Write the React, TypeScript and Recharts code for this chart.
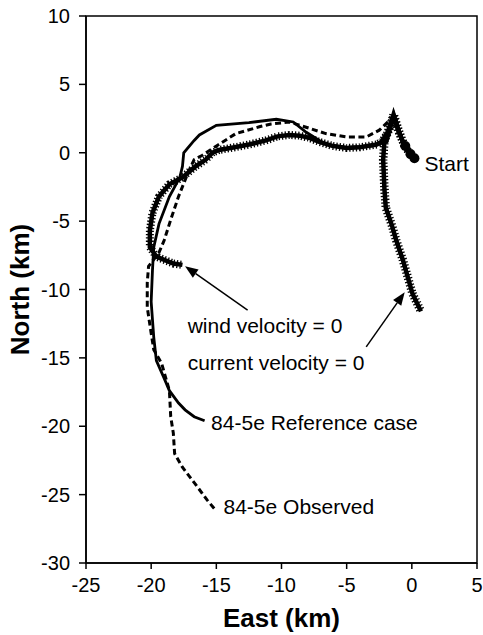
import React from "react";
import { ScatterChart, Scatter, XAxis, YAxis, ReferenceArea, ReferenceLine, ReferenceDot } from "recharts";

const eastTicks = [-25, -20, -15, -10, -5, 0, 5];
const northTicks = [-30, -25, -20, -15, -10, -5, 0, 5, 10];

// [east, north] in km
const referenceCase: [number, number][] = [
  [0.1, -0.3], [-0.6, 0.4], [-1.4, 2.5], [-1.9, 0.8], [-3.0, 0.5], [-5.0, 0.4], [-6.5, 0.6],
  [-7.1, 0.9], [-8.1, 1.5], [-9.1, 2.25], [-10.4, 2.45], [-12.5, 2.2], [-15.0, 2.0], [-16.3, 1.3],
  [-16.7, 0.9], [-17.5, 0], [-17.6, -1.0], [-17.8, -1.8], [-18.6, -3.2], [-19.4, -5.2], [-19.8, -6.9],
  [-19.9, -8.6], [-20.0, -10.9], [-19.8, -13.5], [-19.6, -15.2], [-19.0, -16.5], [-18.6, -17.4],
  [-17.9, -18.3], [-17.4, -18.8], [-16.7, -19.3], [-15.9, -19.6],
];

const observed: [number, number][] = [
  [0.1, -0.3], [-0.2, -0.2], [-0.6, 0.4], [-1.3, 2.75], [-2.5, 1.65], [-3.5, 1.15], [-5.0, 1.15],
  [-6.6, 1.4], [-7.9, 1.8], [-9.4, 2.25], [-10.8, 2.1], [-11.7, 1.9], [-13.5, 1.4], [-14.9, 0.55],
  [-16.1, -0.2], [-16.7, -0.5], [-17.1, -1.3], [-17.4, -2.0], [-17.9, -3.2], [-18.5, -4.9],
  [-19.0, -6.4], [-19.4, -7.3], [-20.2, -8.3], [-20.3, -9.5], [-20.3, -11.3], [-20.0, -13.2],
  [-19.8, -14.4], [-19.2, -15.4], [-18.6, -17.4], [-18.5, -19.3], [-18.3, -20.5], [-18.2, -22.0],
  [-17.6, -23.0], [-16.4, -24.5], [-15.7, -25.4], [-15.0, -26.2],
];

const windZero: [number, number][] = [
  [0.2, -0.4], [-0.2, 0.0], [-0.6, 0.6], [-1.0, 1.5], [-1.4, 2.7], [-1.9, 1.4], [-2.3, 0.8],
  [-2.7, 0.6], [-4.0, 0.4], [-5.0, 0.35], [-6.1, 0.5], [-7.1, 0.8], [-7.9, 1.1], [-8.6, 1.25],
  [-9.4, 1.3], [-10.3, 1.2], [-11.2, 0.9], [-12.5, 0.6], [-13.6, 0.4], [-14.8, 0.2], [-15.3, 0],
  [-15.8, -0.5], [-16.6, -1.0], [-17.6, -1.8], [-18.6, -2.3], [-19.4, -3.2], [-19.9, -4.4],
  [-20.1, -5.7], [-20.1, -6.9], [-19.6, -7.6], [-18.3, -8.1], [-17.6, -8.2],
];

const currentZero: [number, number][] = [
  [0.2, -0.4], [-0.2, 0.0], [-0.6, 0.6], [-1.0, 1.6], [-1.4, 2.8], [-1.7, 1.8], [-2.1, 0.9],
  [-2.2, -0.5], [-2.1, -2.7], [-2.0, -4.0], [-1.5, -5.4], [-1.2, -6.4], [-0.7, -7.8], [-0.4, -8.8],
  [0.05, -10.3], [0.4, -11.0], [0.7, -11.6],
];

// cluster of markers at the start position
const startCluster: [number, number][] = [[0.2, -0.4], [-0.1, -0.1], [-0.5, 0.5]];

const toPts = (a: [number, number][]) => a.map(([x, y]) => ({ x, y }));

const font = "'Liberation Sans', Arial, sans-serif";
const noDot = () => <g />;
const blob = (p: any) => <circle cx={p.cx} cy={p.cy} r={5} fill="#000" />;

const arrowShape = (p: any) => {
  const { x1, y1, x2, y2 } = p;
  const a = Math.atan2(y2 - y1, x2 - x1);
  const len = 13;
  const half = 5;
  const bx = x2 - len * Math.cos(a);
  const by = y2 - len * Math.sin(a);
  const pts = `${x2},${y2} ${bx + half * Math.sin(a)},${by - half * Math.cos(a)} ${bx - half * Math.sin(a)},${by + half * Math.cos(a)}`;
  return (
    <g>
      <line x1={x1} y1={y1} x2={bx} y2={by} stroke="#000" strokeWidth={1.5} />
      <polygon points={pts} fill="#000" />
    </g>
  );
};

const textShape = (label: string) => (p: any) => (
  <text x={p.cx} y={p.cy} dy="0.36em" fontSize={21} fontFamily={font} fill="#000">
    {label}
  </text>
);

const notes = [
  { x: 0.97, y: -0.75, text: "Start" },
  { x: -17.2, y: -12.6, text: "wind velocity = 0" },
  { x: -17.2, y: -15.3, text: "current velocity = 0" },
  { x: -15.4, y: -19.7, text: "84-5e Reference case" },
  { x: -14.45, y: -25.9, text: "84-5e Observed" },
];

export default function App() {
  return (
    <div style={{ position: "absolute", left: 0, top: 0, background: "#fff", fontFamily: font }}>
      <ScatterChart width={483} height={635} margin={{ top: 16, right: 6, bottom: 0, left: 6 }}>
        <XAxis
          type="number"
          dataKey="x"
          domain={[-25, 5]}
          ticks={eastTicks}
          allowDataOverflow
          height={72}
          tickSize={6}
          tickMargin={9}
          stroke="#000"
          strokeWidth={1.5}
          tick={{ fill: "#000", fontSize: 20, fontFamily: font }}
          label={{
            content: ({ viewBox }: any) => (
              <text
                x={viewBox.x + viewBox.width / 2}
                y={viewBox.y + 55}
                dy="0.35em"
                textAnchor="middle"
                fontSize={26}
                fontWeight="bold"
                fontFamily={font}
                fill="#000"
              >
                East (km)
              </text>
            ),
          }}
        />
        <YAxis
          type="number"
          dataKey="y"
          domain={[-30, 10]}
          ticks={northTicks}
          allowDataOverflow
          width={80}
          tickSize={7}
          tickMargin={9}
          stroke="#000"
          strokeWidth={1.5}
          tick={{ fill: "#000", fontSize: 20, fontFamily: font }}
          label={{
            content: ({ viewBox }: any) => {
              const cx = 20;
              const cy = viewBox.y + viewBox.height / 2;
              return (
                <text
                  x={cx}
                  y={cy}
                  dy="0.35em"
                  textAnchor="middle"
                  transform={`rotate(-90, ${cx}, ${cy})`}
                  fontSize={26}
                  fontWeight="bold"
                  fontFamily={font}
                  fill="#000"
                >
                  North (km)
                </text>
              );
            },
          }}
        />
        <ReferenceArea x1={-25} x2={5} y1={-30} y2={10} fill="none" stroke="#000" strokeWidth={1.5} />
        <Scatter
          data={toPts(observed)}
          line={{ stroke: "#000", strokeWidth: 3, strokeDasharray: "6 3.5" }}
          lineType="joint"
          shape={noDot}
          isAnimationActive={false}
        />
        <Scatter
          data={toPts(referenceCase)}
          line={{ stroke: "#000", strokeWidth: 2.8 }}
          lineType="joint"
          shape={noDot}
          isAnimationActive={false}
        />
        <Scatter
          data={toPts(windZero)}
          line={{ stroke: "#000", strokeWidth: 4.5 }}
          lineType="joint"
          shape={noDot}
          isAnimationActive={false}
        />
        <Scatter
          data={toPts(windZero)}
          line={{ stroke: "#000", strokeWidth: 8, strokeDasharray: "1.3 2" }}
          lineType="joint"
          shape={noDot}
          isAnimationActive={false}
        />
        <Scatter
          data={toPts(currentZero)}
          line={{ stroke: "#000", strokeWidth: 4.5 }}
          lineType="joint"
          shape={noDot}
          isAnimationActive={false}
        />
        <Scatter
          data={toPts(currentZero)}
          line={{ stroke: "#000", strokeWidth: 8.5, strokeDasharray: "1.3 2" }}
          lineType="joint"
          shape={noDot}
          isAnimationActive={false}
        />
        <Scatter data={toPts(startCluster)} shape={blob} isAnimationActive={false} />
        <ReferenceLine segment={[{ x: -12.6, y: -11.5 }, { x: -17.4, y: -8.3 }]} shape={arrowShape} />
        <ReferenceLine segment={[{ x: -3.5, y: -14.2 }, { x: -0.55, y: -10.2 }]} shape={arrowShape} />
        {notes.map((n) => (
          <ReferenceDot key={n.text} x={n.x} y={n.y} r={0} shape={textShape(n.text)} />
        ))}
      </ScatterChart>
    </div>
  );
}
